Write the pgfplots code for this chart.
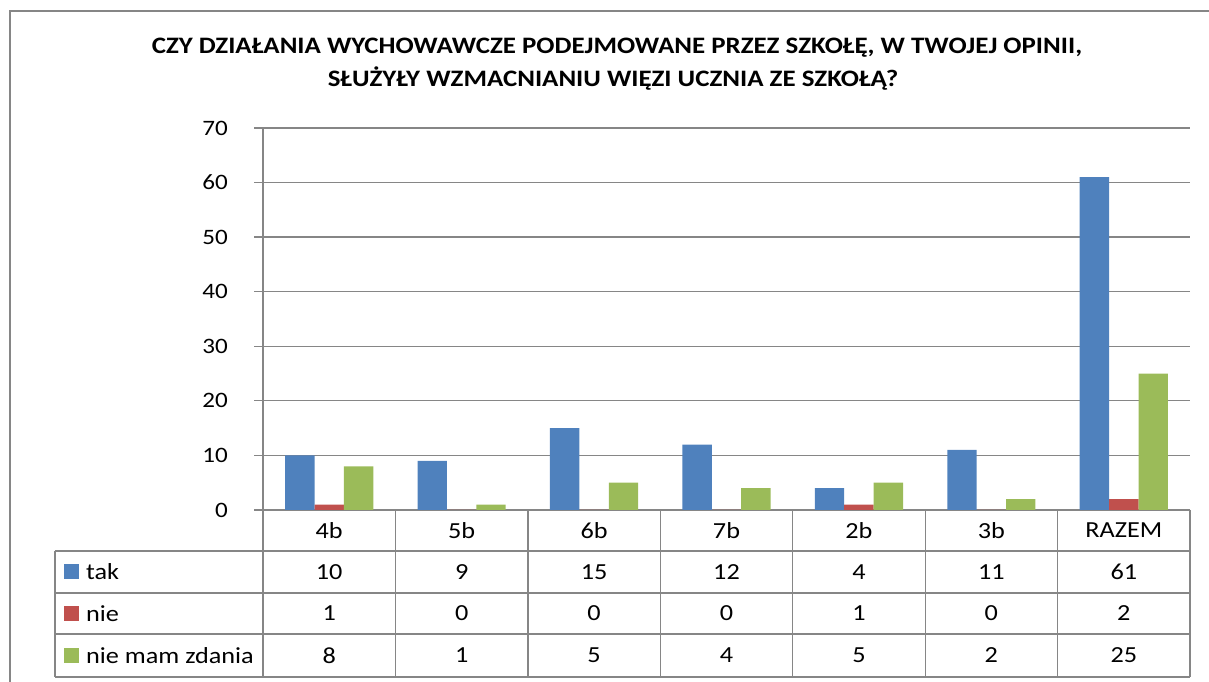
\documentclass[border=0pt]{standalone}
\usepackage{pgfplots}
\pgfplotsset{compat=1.18}
\usepackage{fontspec}
\setmainfont{Carlito}[FakeStretch=1.14]

\definecolor{gridgray}{HTML}{868686}
\definecolor{ctak}{HTML}{4F81BD}
\definecolor{cnie}{HTML}{C0504D}
\definecolor{cnmz}{HTML}{9BBB59}

\begin{document}
\begin{tikzpicture}[x=1bp, y=1bp]
\useasboundingbox (0,0) rectangle (1209,682);

% chart frame (only left and top edges visible)
\draw[gridgray, line width=2bp] (10,0) -- (10,671) -- (1209,671);

% title
\node[font=\fontsize{23.6bp}{28bp}\selectfont\bfseries, anchor=base] at (617,628)
  {CZY DZIAŁANIA WYCHOWAWCZE PODEJMOWANE PRZEZ SZKOŁĘ, W TWOJEJ OPINII,};
\node[font=\fontsize{23.6bp}{28bp}\selectfont\bfseries, anchor=base] at (613,595)
  {SŁUŻYŁY WZMACNIANIU WIĘZI UCZNIA ZE SZKOŁĄ?};

\begin{axis}[
    at={(263bp,172bp)}, anchor=south west,
    scale only axis, width=927bp, height=382bp,
    xmin=-0.5, xmax=6.5, ymin=0, ymax=70,
    ytick={0,10,...,70}, xtick=\empty,
    axis x line=bottom, axis y line=left,
    axis line style={draw=gridgray, line width=1.3bp, -},
    ymajorgrids, grid style={draw=gridgray, line width=1.3bp},
    ytick pos=left, tick align=outside, major tick length=9bp,
    tick style={draw=gridgray, line width=1.3bp},
    yticklabel style={font=\fontsize{22bp}{26bp}\selectfont, anchor=east,
      inner xsep=0pt, xshift=-26bp},
    /pgf/number format/assume math mode=true,
    bar width=0.222,
    clip=false,
]
\addplot[ybar, bar shift=-0.222, fill=ctak, draw=none]
  coordinates {(0,10) (1,9) (2,15) (3,12) (4,4) (5,11) (6,61)};
\addplot[ybar, bar shift=0, fill=cnie, draw=none]
  coordinates {(0,1) (1,0) (2,0) (3,0) (4,1) (5,0) (6,2)};
\addplot[ybar, bar shift=0.222, fill=cnmz, draw=none]
  coordinates {(0,8) (1,1) (2,5) (3,4) (4,5) (5,2) (6,25)};
\end{axis}

% data table
\begin{scope}[draw=gridgray, line width=1.3bp]
  \foreach \yy in {131,89,48,5} \draw[gridgray] (55,\yy) -- (1190,\yy);
  \draw[gridgray] (55,131) -- (55,5);
  \foreach \i in {0,...,7} \draw[gridgray] ({263+132.43*\i},172) -- ({263+132.43*\i},5);
\end{scope}

\begin{scope}[font=\fontsize{23bp}{27bp}\selectfont]
  \foreach \c [count=\i from 0] in {4b,5b,6b,7b,2b,3b,RAZEM}
    \node at ({263+132.43*(\i+0.5)},151.5) {\c};
  \foreach \v [count=\i from 0] in {10,9,15,12,4,11,61}
    \node at ({263+132.43*(\i+0.5)},110) {\v};
  \foreach \v [count=\i from 0] in {1,0,0,0,1,0,2}
    \node at ({263+132.43*(\i+0.5)},68.5) {\v};
  \foreach \v [count=\i from 0] in {8,1,5,4,5,2,25}
    \node at ({263+132.43*(\i+0.5)},26.5) {\v};
  \fill[ctak] (64,102.5) rectangle (79,117.5);
  \fill[cnie] (64,61) rectangle (79,76);
  \fill[cnmz] (64,19) rectangle (79,34);
  \node[anchor=west, inner sep=0] at (86,110) {tak};
  \node[anchor=west, inner sep=0] at (86,68.5) {nie};
  \node[anchor=west, inner sep=0] at (86,26.5) {nie mam zdania};
\end{scope}
\end{tikzpicture}
\end{document}
